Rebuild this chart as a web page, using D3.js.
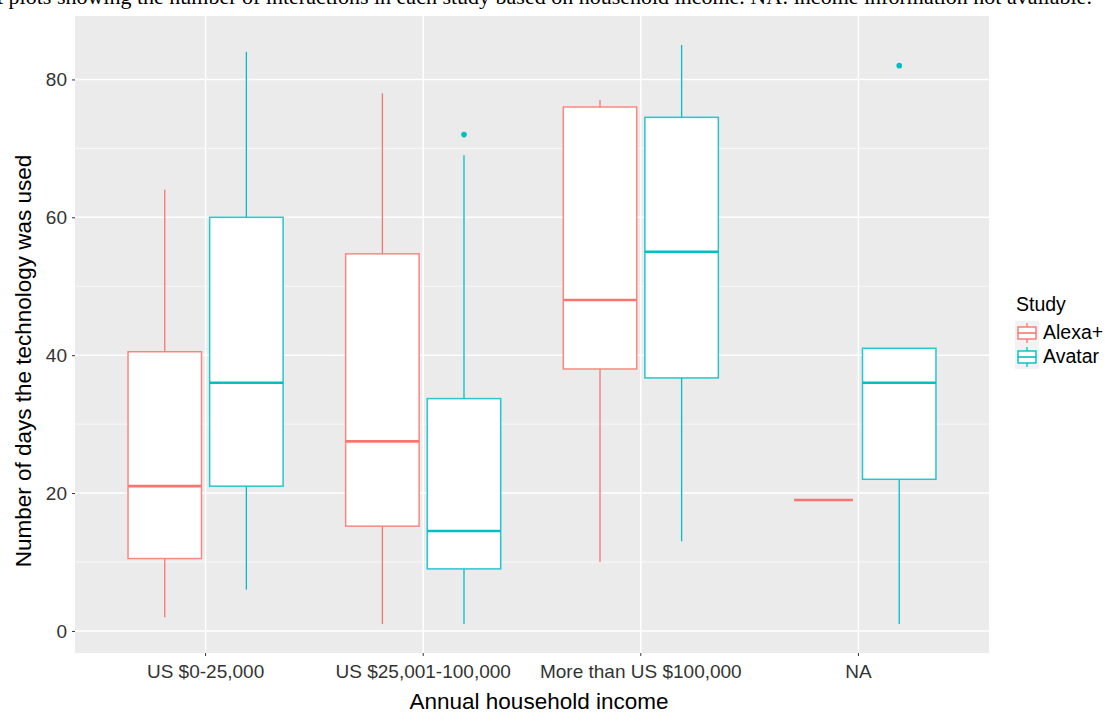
<!DOCTYPE html>
<html>
<head>
<meta charset="utf-8">
<script src="https://cdn.jsdelivr.net/npm/d3@7"></script>
<style>
  body { margin: 0; background: #fff; }
  text { font-family: "Liberation Sans", Arial, sans-serif; }
  .caption { font-family: "Liberation Serif", "Times New Roman", serif; font-size: 22px; fill: #000; }
  .tick-label { font-size: 19px; fill: #333; }
  .axis-title { font-size: 22.5px; fill: #000; }
  .legend-text { font-size: 19.5px; fill: #000; }
</style>
</head>
<body>
<script>
// categories and series
const incomeGroups = ["US $0-25,000", "US $25,001-100,000", "More than US $100,000", "NA"];
const studies = ["Alexa+", "Avatar"];
const studyColors = ["#F8766D", "#00BFC4"];

// box stats: [lowWhisker, q1, median, q3, highWhisker]
const alexaStats = [
    [2, 10.5, 21, 40.5, 64],
    [1, 15.2, 27.5, 54.7, 78],
    [10, 38, 48, 76, 77],
    [19, 19, 19, 19, 19]
];
const avatarStats = [
    [6, 21, 36, 60, 84],
    [1, 9, 14.5, 33.7, 69],
    [13, 36.7, 55, 74.5, 85],
    [1, 22, 36, 41, 41]
];
// outliers: [groupIndex, value]
const avatarOutliers = [[1, 72], [3, 82]];
const alexaOutliers = [];

const yTicks = [0, 20, 40, 60, 80];
const yMinor = [10, 30, 50, 70];

const width = 1105, height = 713;
const margin = { top: 16, right: 116, bottom: 60, left: 75 };

const svg = d3.select("body").append("svg")
    .attr("width", width)
    .attr("height", height);

// caption cut at the top of the picture
svg.append("text")
    .attr("class", "caption")
    .attr("x", -3)
    .attr("y", 4)
    .text("t plots showing the number of interactions in each study based on household income. NA: income information not available.");

const x = d3.scaleBand()
    .domain(incomeGroups)
    .range([margin.left, width - margin.right])
    .paddingOuter(0.1)
    .paddingInner(0);

const y = d3.scaleLinear()
    .domain([-3.2, 89.2])
    .range([height - margin.bottom, margin.top]);

const panelTop = margin.top, panelBottom = height - margin.bottom;
const panelLeft = margin.left, panelRight = width - margin.right;

// panel background
svg.append("rect")
    .attr("x", panelLeft).attr("y", panelTop)
    .attr("width", panelRight - panelLeft)
    .attr("height", panelBottom - panelTop)
    .attr("fill", "#EBEBEB");

const grid = svg.append("g");
yMinor.forEach(v => {
    grid.append("line")
        .attr("x1", panelLeft).attr("x2", panelRight)
        .attr("y1", y(v)).attr("y2", y(v))
        .attr("stroke", "#fff").attr("stroke-width", 0.7);
});
yTicks.forEach(v => {
    grid.append("line")
        .attr("x1", panelLeft).attr("x2", panelRight)
        .attr("y1", y(v)).attr("y2", y(v))
        .attr("stroke", "#fff").attr("stroke-width", 1.5);
});
incomeGroups.forEach(g => {
    const cx = x(g) + x.bandwidth() / 2;
    grid.append("line")
        .attr("x1", cx).attr("x2", cx)
        .attr("y1", panelTop).attr("y2", panelBottom)
        .attr("stroke", "#fff").attr("stroke-width", 1.5);
});

// dodge scale inside each band
const dodge = d3.scaleBand()
    .domain(studies)
    .range([-x.bandwidth() * 0.375, x.bandwidth() * 0.375]);
const boxW = dodge.bandwidth() * 0.9;

function drawBoxes(stats, study, color, outliers) {
    const g = svg.append("g");
    stats.forEach((s, i) => {
        let cx = x(incomeGroups[i]) + x.bandwidth() / 2 + dodge(study) + dodge.bandwidth() / 2;
        const [lo, q1, med, q3, hi] = s;
        const flat = q3 === q1;
        const w = flat ? boxW * 0.8 : boxW;
        if (flat) cx += boxW * 0.08;
        g.append("line")
            .attr("x1", cx).attr("x2", cx)
            .attr("y1", y(hi)).attr("y2", y(q3))
            .attr("stroke", color).attr("stroke-width", 1.3);
        g.append("line")
            .attr("x1", cx).attr("x2", cx)
            .attr("y1", y(q1)).attr("y2", y(lo))
            .attr("stroke", color).attr("stroke-width", 1.3);
        g.append("rect")
            .attr("x", cx - w / 2).attr("y", y(q3))
            .attr("width", w).attr("height", Math.max(0, y(q1) - y(q3)))
            .attr("fill", "#fff")
            .attr("stroke", color).attr("stroke-width", 1.5)
            .attr("stroke-opacity", 0.85);
        g.append("line")
            .attr("x1", cx - w / 2).attr("x2", cx + w / 2)
            .attr("y1", y(med)).attr("y2", y(med))
            .attr("stroke", color).attr("stroke-width", 2.6);
    });
    outliers.forEach(([i, v]) => {
        const cx = x(incomeGroups[i]) + x.bandwidth() / 2 + dodge(study) + dodge.bandwidth() / 2;
        g.append("circle")
            .attr("cx", cx).attr("cy", y(v)).attr("r", 2.8)
            .attr("fill", color);
    });
}
drawBoxes(alexaStats, "Alexa+", studyColors[0], alexaOutliers);
drawBoxes(avatarStats, "Avatar", studyColors[1], avatarOutliers);

// axes
const yAxis = svg.append("g")
    .attr("transform", `translate(${panelLeft},0)`)
    .call(d3.axisLeft(y).tickValues(yTicks).tickSize(3).tickPadding(5));
const xAxis = svg.append("g")
    .attr("transform", `translate(0,${panelBottom})`)
    .call(d3.axisBottom(x).tickSize(3).tickPadding(9));
[xAxis, yAxis].forEach(a => {
    a.select(".domain").remove();
    a.selectAll(".tick line").attr("stroke", "#333");
    a.selectAll(".tick text")
        .attr("class", "tick-label")
        .attr("font-family", null).attr("font-size", null)
        .attr("fill", null);
});

svg.append("text")
    .attr("class", "axis-title")
    .attr("x", 539)
    .attr("y", 709)
    .attr("text-anchor", "middle")
    .text("Annual household income");

svg.append("text")
    .attr("class", "axis-title")
    .attr("transform", `translate(31,361) rotate(-90)`)
    .attr("text-anchor", "middle")
    .text("Number of days the technology was used");

// legend
const legend = svg.append("g").attr("transform", "translate(1016,0)");
legend.append("text")
    .attr("class", "legend-text")
    .attr("x", 0).attr("y", 311)
    .text("Study");
studies.forEach((s, i) => {
    const ky = 321 + i * 24;
    legend.append("rect")
        .attr("x", -1).attr("y", ky)
        .attr("width", 24).attr("height", 24)
        .attr("fill", "#F2F2F2");
    legend.append("line")
        .attr("x1", 11).attr("x2", 11)
        .attr("y1", ky + 2).attr("y2", ky + 22)
        .attr("stroke", studyColors[i]).attr("stroke-width", 1.3);
    legend.append("rect")
        .attr("x", 2).attr("y", ky + 6)
        .attr("width", 18).attr("height", 12)
        .attr("fill", "#fff")
        .attr("stroke", studyColors[i]).attr("stroke-width", 1.4);
    legend.append("line")
        .attr("x1", 2).attr("x2", 20)
        .attr("y1", ky + 12).attr("y2", ky + 12)
        .attr("stroke", studyColors[i]).attr("stroke-width", 1.6);
    legend.append("text")
        .attr("class", "legend-text")
        .attr("x", 27).attr("y", ky + 18)
        .text(s);
});
</script>
</body>
</html>
